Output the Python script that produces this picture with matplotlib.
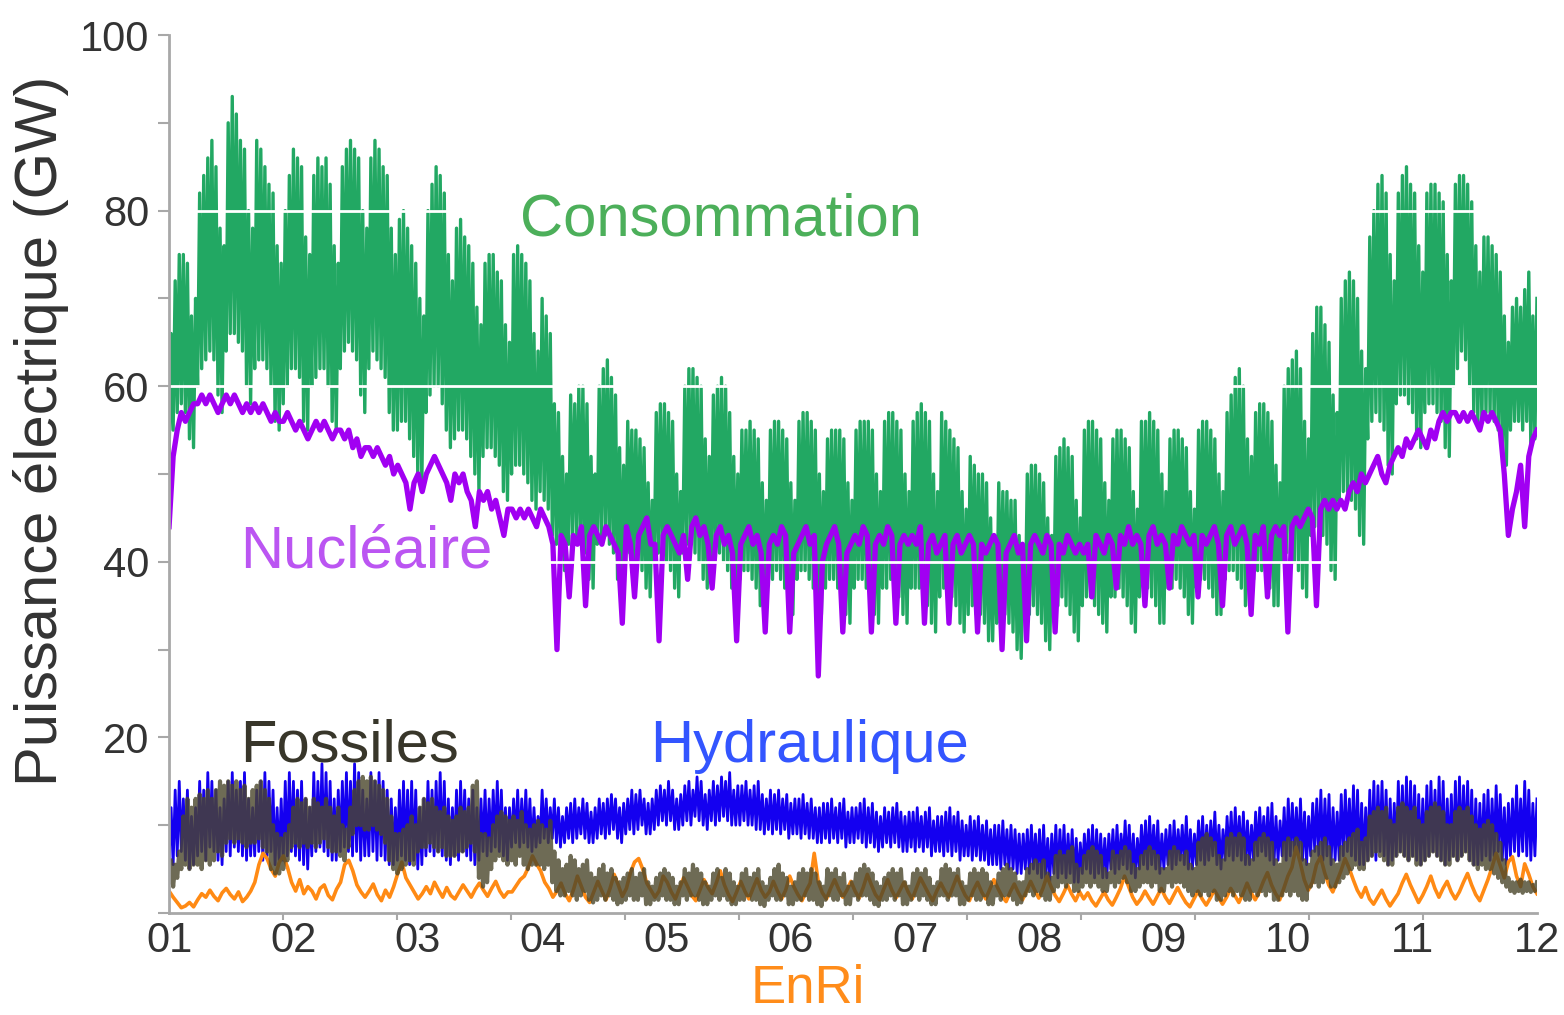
import numpy as np
import matplotlib
matplotlib.use("Agg")
import matplotlib.pyplot as plt

plt.rcParams['font.family'] = ['Liberation Sans', 'DejaVu Sans']

# month labels on the x axis
months = ['01', '02', '03', '04', '05', '06', '07', '08', '09', '10', '11', '12']

# daily values in GW, one row per week starting 1st January (48 weeks)
# consumption: daily peak and night low
cons_hi = [
    [66, 72, 75, 75, 74, 68, 70], [82, 84, 86, 88, 85, 78, 76], [90, 93, 91, 88, 87, 80, 78],
    [88, 87, 85, 83, 82, 76, 74], [80, 84, 87, 86, 85, 77, 75], [84, 86, 85, 86, 83, 76, 74],
    [85, 87, 88, 87, 86, 80, 78], [86, 88, 87, 85, 84, 78, 75], [79, 80, 78, 76, 74, 70, 68],
    [80, 83, 85, 84, 82, 75, 72], [78, 79, 77, 76, 74, 69, 67], [74, 75, 75, 73, 72, 67, 65],
    [75, 76, 75, 74, 72, 66, 64], [70, 68, 66, 58, 57, 52, 50], [59, 58, 60, 60, 58, 52, 50],
    [60, 62, 63, 61, 59, 53, 51], [56, 55, 55, 54, 53, 49, 47], [57, 58, 58, 57, 56, 50, 48],
    [60, 62, 62, 61, 60, 54, 52], [59, 60, 61, 60, 57, 52, 50], [55, 55, 56, 55, 54, 49, 47],
    [55, 56, 56, 55, 54, 49, 47], [56, 57, 57, 56, 55, 50, 48], [54, 55, 55, 55, 54, 49, 47],
    [55, 56, 56, 56, 55, 50, 48], [56, 57, 57, 56, 55, 50, 48], [56, 57, 58, 57, 56, 50, 48],
    [57, 56, 55, 54, 53, 48, 46], [52, 51, 50, 50, 49, 45, 43], [49, 48, 48, 47, 47, 43, 41],
    [50, 51, 51, 50, 49, 45, 43], [52, 53, 54, 53, 52, 47, 45], [55, 56, 56, 55, 54, 49, 47],
    [54, 55, 55, 54, 53, 48, 46], [56, 56, 57, 56, 55, 50, 48], [54, 55, 55, 54, 53, 48, 46],
    [55, 56, 56, 55, 54, 50, 48], [57, 59, 61, 62, 60, 54, 52], [57, 58, 58, 57, 56, 51, 49],
    [60, 62, 63, 64, 62, 56, 54], [66, 69, 69, 67, 65, 59, 57], [70, 72, 73, 72, 70, 64, 62],
    [77, 80, 83, 84, 82, 75, 72], [82, 84, 85, 83, 82, 76, 73], [82, 83, 83, 82, 81, 75, 72],
    [83, 84, 84, 83, 81, 76, 73], [77, 77, 76, 75, 73, 68, 65], [69, 70, 69, 71, 73, 68, 70],
]
cons_lo = [
    [52, 55, 57, 58, 57, 54, 53], [60, 62, 63, 64, 63, 59, 57], [64, 66, 66, 65, 64, 60, 58],
    [62, 63, 63, 62, 60, 56, 55], [58, 60, 62, 62, 61, 56, 55], [60, 61, 62, 62, 60, 56, 55],
    [62, 64, 65, 64, 63, 59, 57], [62, 64, 63, 62, 61, 57, 55], [55, 56, 56, 54, 52, 50, 49],
    [57, 59, 60, 60, 58, 55, 53], [54, 55, 55, 54, 52, 50, 48], [52, 53, 53, 52, 51, 48, 47],
    [50, 51, 51, 50, 49, 47, 46], [48, 47, 46, 43, 42, 40, 39], [42, 43, 43, 42, 41, 38, 37],
    [42, 43, 43, 42, 41, 38, 37], [40, 41, 40, 40, 39, 37, 36], [40, 41, 41, 40, 39, 37, 36],
    [41, 42, 42, 41, 40, 38, 37], [40, 41, 41, 40, 39, 37, 36], [38, 39, 39, 38, 37, 35, 34],
    [38, 38, 39, 38, 37, 35, 34], [38, 39, 39, 38, 37, 35, 34], [37, 38, 38, 37, 36, 34, 33],
    [37, 38, 38, 37, 36, 34, 33], [37, 37, 38, 37, 36, 34, 33], [37, 37, 37, 36, 35, 33, 32],
    [36, 37, 36, 36, 35, 33, 32], [34, 35, 34, 34, 33, 31, 31], [33, 33, 34, 33, 32, 30, 29],
    [34, 34, 35, 34, 33, 31, 30], [35, 35, 36, 35, 34, 32, 31], [35, 36, 36, 35, 34, 33, 32],
    [36, 36, 37, 36, 35, 33, 32], [36, 37, 37, 36, 35, 33, 33], [37, 37, 38, 37, 36, 34, 33],
    [37, 38, 38, 37, 36, 34, 34], [38, 39, 39, 38, 37, 35, 35], [38, 39, 39, 38, 37, 35, 35],
    [40, 41, 41, 40, 39, 37, 36], [43, 44, 44, 43, 42, 39, 38], [47, 48, 48, 47, 46, 43, 42],
    [54, 56, 57, 56, 55, 51, 50], [58, 59, 59, 58, 57, 54, 53], [57, 58, 58, 57, 56, 53, 52],
    [60, 62, 64, 63, 60, 57, 56], [56, 57, 57, 56, 55, 52, 51], [55, 56, 56, 55, 56, 53, 54],
]
# nuclear: daily level
nuc = [
    [44, 52, 55, 57, 56, 57, 58], [58, 59, 58, 59, 58, 57, 58], [59, 58, 59, 58, 57, 58, 57],
    [58, 57, 58, 57, 56, 57, 56], [56, 57, 56, 55, 56, 55, 54], [55, 56, 55, 56, 55, 54, 55],
    [55, 54, 55, 53, 54, 52, 53], [53, 52, 53, 52, 51, 52, 50], [51, 50, 49, 46, 49, 50, 48],
    [50, 51, 52, 51, 50, 49, 47], [50, 49, 50, 48, 47, 44, 48], [47, 48, 46, 47, 45, 43, 46],
    [46, 45, 46, 45, 46, 45, 44], [46, 45, 44, 42, 30, 43, 42], [36, 43, 42, 44, 35, 43, 44],
    [43, 42, 44, 43, 42, 41, 33], [44, 42, 36, 43, 44, 45, 42], [42, 31, 43, 44, 43, 42, 41],
    [43, 38, 44, 45, 43, 44, 42], [37, 43, 44, 42, 43, 41, 31], [42, 43, 44, 42, 43, 41, 32],
    [42, 43, 42, 44, 43, 32, 41], [42, 43, 44, 42, 43, 27, 40], [42, 43, 44, 42, 32, 41, 42],
    [43, 42, 44, 43, 32, 42, 43], [42, 44, 43, 33, 42, 43, 42], [43, 42, 44, 33, 42, 43, 41],
    [42, 43, 33, 42, 43, 41, 42], [43, 42, 32, 42, 41, 42, 43], [42, 30, 41, 42, 43, 41, 42],
    [31, 42, 43, 42, 41, 43, 42], [32, 42, 41, 43, 42, 41, 42], [41, 42, 36, 43, 42, 41, 43],
    [42, 37, 43, 42, 44, 42, 43], [42, 35, 43, 44, 42, 43, 42], [37, 43, 42, 44, 43, 42, 43],
    [36, 43, 42, 43, 44, 42, 35], [43, 44, 42, 43, 44, 42, 34], [43, 42, 44, 36, 43, 44, 43],
    [44, 32, 44, 45, 44, 45, 46], [45, 35, 46, 47, 46, 47, 46], [47, 46, 48, 49, 48, 50, 49],
    [50, 51, 52, 50, 49, 51, 52], [53, 52, 54, 53, 54, 55, 54], [53, 55, 54, 56, 57, 56, 57],
    [57, 56, 57, 56, 57, 56, 55], [57, 56, 57, 56, 55, 50, 43], [46, 48, 51, 44, 52, 54, 55],
]
# hydro: daily peak and low
hydro_hi = [
    [12, 14, 15, 13, 14, 11, 12], [15, 14, 16, 15, 14, 12, 13], [15, 16, 14, 15, 16, 13, 12],
    [14, 15, 16, 15, 14, 12, 13], [15, 16, 15, 14, 15, 13, 12], [16, 15, 17, 16, 15, 13, 14],
    [15, 16, 15, 17, 16, 14, 13], [16, 15, 16, 15, 14, 13, 12], [14, 15, 14, 15, 14, 12, 13],
    [15, 14, 15, 16, 15, 13, 12], [14, 15, 14, 13, 14, 12, 13], [14, 13, 14, 15, 14, 12, 12],
    [13, 14, 13, 14, 13, 12, 11], [14, 13, 12, 13, 12, 11, 12],
    [12.5, 13, 12, 13, 12.5, 11.5, 12], [13, 12.5, 13, 13.5, 13, 12, 12.5],
    [13, 14, 13.5, 14, 13, 12.5, 13], [14, 14.5, 14, 15, 14, 13, 13.5],
    [14.5, 15, 14, 15.5, 15, 13.5, 14], [15, 14.5, 15.5, 15, 16, 14, 14.5],
    [14.5, 15, 14, 14.5, 15, 13.5, 13], [14, 13.5, 14, 13, 13.5, 12.5, 13],
    [13, 13.5, 12.5, 13, 12, 12, 12.5], [12.5, 13, 12, 12.5, 13, 11.5, 12],
    [12, 12.5, 13, 12, 12.5, 11.5, 11], [12, 11.5, 12, 12.5, 11.5, 11, 11.5],
    [11.5, 12, 11, 11.5, 12, 10.5, 11], [11, 11.5, 12, 11, 11.5, 10.5, 10],
    [11, 10.5, 11, 10, 10.5, 9.5, 10], [10, 10.5, 9.5, 10, 9.5, 9, 9],
    [9.5, 10, 9, 9.5, 10, 8.5, 9], [10, 9.5, 10, 9, 9.5, 8.5, 8],
    [9, 9.5, 10, 9.5, 9, 8.5, 9], [9.5, 10, 9, 10.5, 10, 9, 8.5],
    [10, 10.5, 11, 10, 10.5, 9, 9.5], [10, 10.5, 9.5, 10, 11, 9.5, 9],
    [10.5, 11, 10, 10.5, 11.5, 10, 9.5], [11, 11.5, 12, 11, 11.5, 10.5, 10],
    [11.5, 12, 11, 12, 12.5, 11, 10.5], [12, 13, 12.5, 12, 13, 11.5, 11],
    [12.5, 13, 14, 13, 13.5, 12, 11.5], [13.5, 14, 13, 14.5, 14, 12.5, 12],
    [14, 15, 14.5, 15, 14, 13, 12.5], [15, 14.5, 15.5, 15, 14.5, 13.5, 13],
    [14.5, 15, 14, 15.5, 15, 13, 13.5], [15, 15.5, 14.5, 15, 14, 13, 12.5],
    [13.5, 14, 13, 14.5, 13.5, 12, 12.5], [13, 14.5, 13, 15, 14, 12.5, 13],
]
hydro_lo = [
    [6, 5.5, 6.5, 7, 6, 5, 5.5], [6.5, 7, 6, 7.5, 7, 6, 5.5], [7, 6.5, 7.5, 7, 6.5, 6, 6.5],
    [6.5, 7, 6, 6.5, 7, 5.5, 6], [6, 6.5, 7, 6.5, 6, 5.5, 5], [6.5, 7, 7.5, 7, 6.5, 6, 6],
    [7, 7.5, 7, 6.5, 7, 6, 6.5], [6.5, 7, 6, 6.5, 6, 5.5, 5.5], [6, 6.5, 6, 5.5, 6, 5, 5.5],
    [6.5, 7, 6.5, 7, 6.5, 6, 5.5], [6.5, 6, 7, 6.5, 6, 5.5, 6], [7, 6.5, 7, 7.5, 7, 6.5, 6],
    [7.5, 8, 7.5, 8, 7.5, 7, 7.5], [8, 8.5, 8, 8.5, 8, 7.5, 8], [8.5, 8, 8.5, 9, 8.5, 8, 8],
    [8.5, 9, 8.5, 9, 9.5, 8.5, 8], [9, 9.5, 9, 9.5, 10, 9, 9], [9.5, 10, 10.5, 10, 10.5, 9.5, 9.5],
    [10, 10.5, 10, 11, 10.5, 10, 9.5], [10.5, 10, 10.5, 11, 10.5, 10, 10],
    [10, 10.5, 10, 10, 9.5, 9.5, 9], [9.5, 9, 9.5, 9, 9.5, 8.5, 9], [9, 8.5, 9, 8.5, 8.5, 8, 8],
    [8.5, 8, 8.5, 8, 8.5, 7.5, 8], [8, 8.5, 8, 7.5, 8, 7.5, 7], [7.5, 8, 7.5, 8, 7.5, 7, 7],
    [7.5, 7, 7.5, 7, 7.5, 6.5, 7], [7, 6.5, 7, 6.5, 7, 6, 6.5], [6.5, 6, 6.5, 6, 6, 5.5, 5.5],
    [5.5, 5, 5.5, 5, 5, 4.5, 4.5], [5, 4.5, 5, 4.5, 4, 4, 3.5], [4.5, 4, 4.5, 4, 4.5, 3.5, 3.5],
    [4.5, 5, 4.5, 4, 4.5, 4, 4], [5, 4.5, 5, 5.5, 5, 4.5, 4], [5, 5.5, 5, 5.5, 5, 4.5, 5],
    [5.5, 5, 5.5, 6, 5.5, 5, 5], [5.5, 6, 5.5, 6, 6.5, 5.5, 5], [6, 6.5, 6, 6.5, 6, 5.5, 5.5],
    [6, 6.5, 7, 6.5, 6, 5.5, 6], [6.5, 6, 6.5, 7, 6.5, 6, 5.5], [6.5, 7, 6.5, 6, 6.5, 5.5, 6],
    [6, 6.5, 7, 6.5, 6, 5.5, 5.5], [6, 6.5, 6, 7, 6.5, 5.5, 6], [6.5, 7, 6.5, 6, 6.5, 6, 5.5],
    [6, 6.5, 7, 6.5, 6, 5.5, 6], [6.5, 6, 6.5, 7, 6, 5.5, 5.5], [6, 6.5, 6, 6.5, 7, 6, 5.5],
    [6.5, 7, 6.5, 7, 6.5, 6, 6.5],
]
# fossil: daily peak and low
fossil_hi = [
    [6, 5.5, 7, 11, 13, 12, 13], [13.5, 13, 14, 13, 14, 15, 14.5], [15, 14.5, 15, 14, 14.5, 13, 14],
    [14.5, 15, 14, 13, 10, 9, 8.5], [9, 10, 12, 13, 12.5, 13, 12], [13, 12.5, 12, 13, 12, 11, 12],
    [10, 9.5, 12, 14, 15, 15.5, 15], [15.5, 15, 14.5, 14, 13, 11, 9], [9, 9.5, 10, 11, 10, 12, 13],
    [12.5, 13, 12, 11.5, 12, 11, 10.5], [11, 12, 11.5, 12, 14.5, 15, 9], [9, 8.5, 10, 11, 11.5, 11, 10.5],
    [11, 10.5, 11.5, 10, 9.5, 10, 10.5], [10, 9.5, 10.5, 7, 6, 5, 5.5], [6.5, 6, 5, 5.5, 6, 4.5, 4],
    [5, 5.5, 4.5, 5, 4, 3.5, 4], [4.5, 5, 4, 4.5, 5, 3.5, 3], [4, 4.5, 5, 4.5, 4, 3, 3.5],
    [5, 4.5, 5.5, 5, 4.5, 3.5, 3], [4.5, 5, 4, 5, 4.5, 3.5, 3], [4.5, 5, 4, 4.5, 5, 3.5, 3],
    [4, 5, 5.5, 4.5, 4, 3, 3.5], [4.5, 5, 4.5, 5, 4.5, 3.5, 3], [5, 4.5, 5, 4, 4.5, 3, 3.5],
    [4.5, 5, 5.5, 5, 4.5, 3.5, 3], [4, 4.5, 5, 4.5, 5, 3.5, 3], [4.5, 5, 4.5, 5, 4, 3, 3.5],
    [5, 5.5, 5, 4.5, 5, 3.5, 3], [4.5, 5, 4.5, 5, 4.5, 3.5, 3], [4.5, 5, 5.5, 5, 4.5, 3.5, 3.5],
    [5, 5.5, 6, 5.5, 6, 4.5, 4], [6.5, 7, 6.5, 7, 7.5, 5.5, 5], [6.5, 7, 7.5, 7, 6.5, 5, 4.5],
    [7, 6.5, 7, 7.5, 7, 5.5, 5], [6.5, 7, 7.5, 7, 6.5, 5, 5], [7, 7.5, 7, 6.5, 7, 5.5, 5],
    [8, 8.5, 9, 8.5, 8, 6.5, 6], [8.5, 9, 8.5, 9, 8.5, 6.5, 6], [8, 8.5, 9, 8.5, 8, 6, 5.5],
    [8, 8.5, 8, 8.5, 8, 6, 5.5], [7, 7.5, 8, 8.5, 7.5, 6, 5.5], [7.5, 8, 8.5, 9, 9.5, 8, 8.5],
    [11, 11.5, 12, 11.5, 12, 10.5, 10], [12, 12.5, 12, 11.5, 12, 10.5, 10], [11.5, 12, 12.5, 12, 11.5, 10, 10],
    [11.5, 12, 11.5, 12, 11, 10, 9.5], [10, 10.5, 10, 9, 8, 6, 4], [3.5, 3.5, 3.8, 3.5, 3.5, 3.2, 3.5],
]
fossil_lo = [
    [3.5, 3, 4, 5, 5.5, 5, 5.5], [5.5, 5, 6, 5.5, 6, 7, 6.5], [8, 8.5, 8, 8.5, 8, 7.5, 8],
    [8, 8.5, 7.5, 7, 5, 4.5, 4.5], [5, 6, 7.5, 8, 7.5, 8, 7.5], [8, 7.5, 8, 8.5, 7.5, 7, 7],
    [6.5, 6, 7.5, 9, 10, 10, 9.5], [9.5, 10, 9.5, 9, 8, 6, 5], [4.5, 5, 5.5, 6, 5.5, 7, 7.5],
    [7.5, 8, 7.5, 7, 7.5, 6.5, 6.5], [6.5, 7, 7, 7.5, 8, 7, 4], [3, 3.5, 5, 6, 6.5, 6, 5.5],
    [6, 5.5, 6.5, 5.5, 5, 5.5, 5.5], [5.5, 5, 5.5, 3.5, 2.5, 2, 2], [2.5, 2, 1.5, 2, 2.5, 1.5, 1.2],
    [1.5, 2, 1.5, 2, 1.5, 1, 1.2], [1.5, 2, 1.5, 1.5, 2, 1, 1], [1.5, 1.5, 2, 1.5, 1.5, 1, 1],
    [2, 1.5, 2, 2, 1.5, 1, 1], [1.5, 2, 1.5, 2, 1.5, 1, 1], [1.5, 1.5, 2, 1.5, 1.5, 1, 0.8],
    [1.5, 2, 1.5, 1.5, 2, 1, 1], [1.5, 1.5, 2, 1.5, 1.5, 1, 0.8], [1.5, 2, 1.5, 1.5, 2, 1, 1],
    [2, 1.5, 2, 2, 1.5, 1, 0.8], [1.5, 1.5, 2, 1.5, 2, 1, 1], [1.5, 2, 1.5, 2, 1.5, 1, 1],
    [2, 2, 1.5, 2, 2, 1, 1], [1.5, 2, 1.5, 1.5, 2, 1, 1], [2, 1.5, 2, 2, 1.5, 1, 1.2],
    [2, 2.5, 2, 2.5, 2, 1.5, 1.5], [2.5, 3, 3.5, 3, 3.5, 2.5, 2.5], [3, 3.5, 3, 3.5, 3, 2.5, 2.5],
    [3.5, 3, 3.5, 4, 3.5, 2.5, 2.5], [3, 3.5, 3.5, 3, 3.5, 2.5, 2.5], [3.5, 3, 3.5, 3.5, 3, 2.5, 2],
    [2.5, 2, 2.5, 2, 2.5, 1.5, 1.5], [2, 2.5, 2, 2.5, 2, 1.5, 1.5], [2.5, 2, 2.5, 2, 2.5, 1.5, 1.5],
    [2, 2.5, 2, 2.5, 2, 1.5, 1.5], [3, 3.5, 3, 3.5, 4, 3, 3], [3.5, 4, 4.5, 5, 5.5, 5, 5],
    [6, 6.5, 7, 6.5, 6, 5.5, 5.5], [6.5, 7, 6.5, 6, 6.5, 5.5, 5.5], [6, 6.5, 7, 6.5, 6, 5.5, 5.5],
    [6.5, 6, 6.5, 7, 6, 5.5, 5], [5.5, 5, 5, 4.5, 4, 3.5, 3], [2.5, 2.3, 2.5, 2.3, 2.5, 2.4, 2.5],
]
# other renewables (EnRi): daily level
enri = [
    [2.5, 1.8, 1.2, 0.6, 0.8, 1.2, 0.7], [1.5, 2.2, 1.8, 2.6, 1.9, 1.4, 2.3], [2.8, 2.1, 1.6, 2.4, 1.3, 1.8, 2.5],
    [3.5, 5.5, 6.8, 6.2, 5, 4.2, 5.8], [6.5, 5.2, 3.5, 2.5, 3.8, 2.2, 3], [2.5, 1.6, 2.8, 3.2, 2, 1.5, 2.7],
    [3.5, 5.5, 6, 4.8, 3.2, 2.4, 1.8], [2.5, 3.3, 2.1, 1.4, 2.6, 1.8, 3], [4.5, 5.8, 4, 3.2, 2.4, 1.6, 2.2],
    [3, 2.2, 3.5, 2.6, 1.8, 2.9, 2], [1.6, 2.4, 3.2, 2.5, 1.8, 2.7, 3.4], [2.6, 1.9, 2.8, 3.6, 2.5, 1.8, 2.4],
    [2.4, 3.1, 3.8, 4.2, 5.2, 6.5, 5.6], [4.8, 3.5, 2.8, 1.8, 2.5, 3.4, 2.2], [1.4, 2.6, 4.2, 3, 1.8, 1.2, 2.4],
    [3.6, 2.5, 1.5, 2.8, 4.4, 3.2, 1.9], [2.8, 4.6, 5.8, 6.2, 5, 3.4, 2.6], [1.8, 2.5, 4.2, 3.5, 2.4, 1.6, 2.8],
    [4, 3, 2, 1.4, 2.6, 3.8, 2.9], [2.2, 3.4, 4.8, 3.2, 2.1, 1.3, 2.4], [3.6, 2.5, 1.6, 2.8, 3.9, 2.6, 1.8],
    [2.4, 3.6, 2.5, 1.6, 2.6, 4.2, 3], [2.1, 1.4, 2.5, 3.4, 6.8, 3.5, 2.3], [1.6, 2.8, 3.8, 2.7, 1.8, 2.6, 3.6],
    [2.5, 1.7, 2.9, 4.4, 3.2, 2.1, 1.5], [2.7, 3.8, 2.6, 1.7, 2.6, 3.5, 2.4], [1.6, 2.8, 4, 3.1, 2.2, 1.4, 2.5],
    [3.4, 2.5, 1.8, 3, 4.2, 3, 2], [1.4, 2.6, 3.5, 2.4, 1.6, 2.7, 3.8], [2.8, 1.9, 1.3, 2.4, 3.3, 2.3, 1.5],
    [2.5, 3.6, 2.6, 1.7, 2.8, 4.2, 3], [2, 1.3, 2.2, 3.2, 2.2, 1.4, 2.4], [1.6, 2.3, 1.4, 0.8, 1.6, 2.4, 1.5],
    [0.9, 1.8, 2.8, 4.2, 3, 1.8, 1], [1.6, 2.5, 1.7, 1, 1.9, 2.8, 1.8], [1.1, 2, 2.9, 2, 1.2, 0.7, 1.6],
    [2.5, 1.6, 0.9, 1.7, 2.6, 1.8, 1], [1.8, 2.8, 2, 1.2, 2.2, 3.4, 2.3], [1.5, 2.4, 3.6, 4.6, 3.2, 2.2, 1.5],
    [2.8, 4.2, 5.2, 7.5, 5.8, 3.8, 2.6], [3.5, 5.5, 6.4, 4.6, 3.2, 2.4, 3.6], [4.8, 6.2, 5.1, 3.8, 2.6, 1.8, 2.9],
    [1.6, 1, 1.8, 2.6, 1.6, 0.8, 1.5], [2.2, 3.4, 4.4, 3.2, 2.2, 1.2, 2], [3, 4.2, 2.8, 1.8, 2.8, 3.6, 2.4],
    [1.6, 2.4, 3.5, 4.5, 3.2, 2.1, 1.4], [2.6, 3.8, 5.2, 6.8, 5.4, 4, 5.8], [6.4, 4.2, 3, 5.6, 4.4, 3, 2.2],
]


def daily_line(values):
    # one point per day, spread from month 01 to month 12
    y = np.ravel(values)
    x = np.linspace(1, 12, len(y))
    return x, y


def day_night_line(lo, hi):
    # alternate night low and day peak for every day
    y = np.column_stack([np.ravel(lo), np.ravel(hi)]).ravel()
    x = np.linspace(1, 12, len(y))
    return x, y


fig = plt.figure(figsize=(15.64, 10.15), dpi=100)
ax = fig.add_axes([0.1081, 0.1005, 0.8746, 0.865])

x, y = day_night_line(cons_lo, cons_hi)
ax.plot(x, y, color='#22a863', lw=2.4, zorder=2)
x, y = daily_line(nuc)
ax.plot(x, y, color='#a100f2', lw=3.8, zorder=3)
x, y = day_night_line(hydro_lo, hydro_hi)
ax.plot(x, y, color='#1400f0', lw=2.0, zorder=2)
x, y = daily_line(enri)
ax.plot(x, y, color='#ff8a14', lw=2.6, zorder=3)
x, y = day_night_line(fossil_lo, fossil_hi)
ax.plot(x, y, color='#4a462b', lw=3, alpha=0.8, zorder=4)

# white grid lines drawn over the curves
for v in [20, 40, 60, 80]:
    ax.axhline(v, color='white', lw=2, zorder=6)

ax.set_xlim(1, 12)
ax.set_ylim(0, 100)

ax.set_xticks(range(1, 13))
ax.set_xticklabels(months)
ax.set_xticks(np.linspace(1, 12, 13), minor=True)
ax.tick_params(axis='x', which='major', length=0, pad=6, labelsize=30, labelcolor='#333333')
ax.tick_params(axis='x', which='minor', length=5, width=1.5, color='#a8a8a8')

ax.set_yticks([0, 20, 40, 60, 80, 100])
ax.set_yticklabels(['', '20', '40', '60', '80', '100'])
ax.set_yticks([10, 30, 50, 70, 90], minor=True)
ax.tick_params(axis='y', which='both', length=8, width=1.5, color='#a8a8a8', pad=6)
ax.tick_params(axis='y', which='major', labelsize=30, labelcolor='#333333')

for side in ['top', 'right']:
    ax.spines[side].set_visible(False)
for side in ['left', 'bottom']:
    ax.spines[side].set_color('#a8a8a8')
    ax.spines[side].set_linewidth(2)
    ax.spines[side].set_zorder(10)

fig.text(0.026, 0.576, 'Puissance électrique (GW)', rotation=90, ha='center', va='center',
         fontsize=43, color='#333333')

# series names, above the grid lines
ax.text(3.82, 77.2, 'Consommation', fontsize=43, color='#4caf5a', va='baseline', zorder=8)
ax.text(1.57, 39.4, 'Nucléaire', fontsize=43, color='#bb55f2', va='baseline', zorder=8)
ax.text(1.57, 17.2, 'Fossiles', fontsize=43, color='#38362a', va='baseline', zorder=8)
ax.text(4.87, 17.2, 'Hydraulique', fontsize=43, color='#3355ff', va='baseline', zorder=8)
ax.text(5.68, -10.25, 'EnRi', fontsize=38, color='#ff8c1a', va='baseline', zorder=8, clip_on=False)

fig.savefig('out.png', dpi=100)
